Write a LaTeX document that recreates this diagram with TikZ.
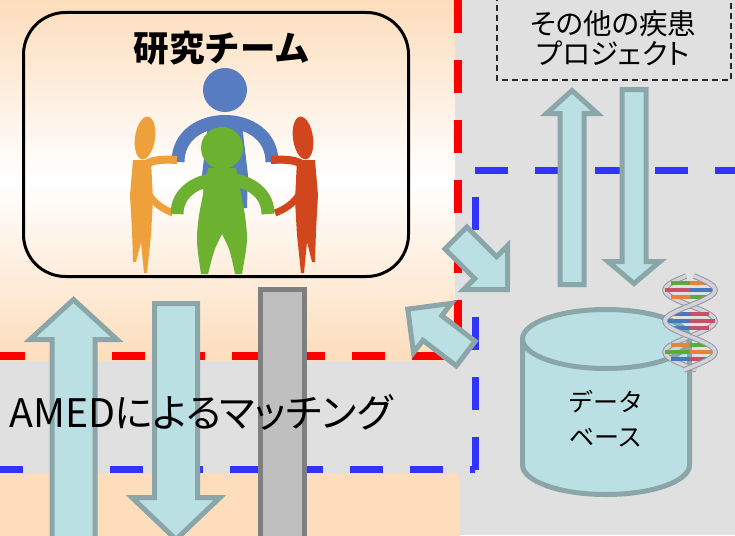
\documentclass[tikz,border=0pt]{standalone}
\usepackage{fontspec}
\newfontfamily\jp{Noto Sans CJK JP}[RawFeature=+palt]
\newfontfamily\jpfull{Noto Sans CJK JP}
\definecolor{peach}{RGB}{253,221,188}
\definecolor{bggray}{RGB}{224,224,224}
\definecolor{dashred}{RGB}{255,0,0}
\definecolor{dashblue}{RGB}{51,51,255}
\definecolor{arrowfill}{RGB}{187,224,227}
\definecolor{arrowline}{RGB}{138,166,168}
\definecolor{barfill}{RGB}{191,191,191}
\definecolor{barline}{RGB}{127,127,127}
\definecolor{pblue}{RGB}{88,124,192}
\definecolor{pgreen}{RGB}{108,178,48}
\definecolor{porange}{RGB}{238,160,58}
\definecolor{pred}{RGB}{210,70,30}
\definecolor{silver}{RGB}{210,210,216}
\definecolor{silveredge}{RGB}{150,150,160}
\definecolor{dnagreen}{RGB}{90,170,60}
\definecolor{dnaorange}{RGB}{230,130,60}
\definecolor{dnared}{RGB}{200,80,100}
\definecolor{dnablue}{RGB}{70,120,190}

% block arrow: tip x, tip y, direction (deg, y downwards), length,
% head length, head half width, shaft half width (outer sizes)
\newcommand{\blockarrow}[7]{%
  \draw[blockarrow, shift={(#1,#2)}, rotate={-(#3)}]
    (-3.5,0) -- ({-#5+2.5},{#6-5}) -- ({-#5+2.5},{#7-2.5})
    -- ({-#4+2.5},{#7-2.5}) -- ({-#4+2.5},{-#7+2.5})
    -- ({-#5+2.5},{-#7+2.5}) -- ({-#5+2.5},{-#6+5}) -- cycle;}

\begin{document}
\begin{tikzpicture}[x=1pt,y=-1pt,
  reddash/.style={draw=dashred, line width=7.5pt, dash pattern=on 33pt off 27pt},
  bluedash/.style={draw=dashblue, line width=7pt, dash pattern=on 33pt off 27pt},
  blockarrow/.style={fill=arrowfill, draw=arrowline, line width=5pt, line join=miter},
  grayblock/.style={fill=barfill, draw=barline, line width=5pt},
  dbshape/.style={fill=arrowfill, draw=arrowline, line width=5pt},
  teambox/.style={draw=black, line width=3pt, rounded corners=42pt},
  projbox/.style={draw=black!85, line width=1.6pt, dash pattern=on 6pt off 4pt},
  label/.style={text=black, inner sep=0pt},
  dnabar/.style={line width=3.8pt}]
\useasboundingbox (0,0) rectangle (735,535);
\clip (0,0) rectangle (735,535);

% backgrounds
\fill[bggray] (0,0) rectangle (735,535);
\shade[top color=peach, bottom color=white] (0,0) rectangle (455,180);
\shade[top color=white, bottom color=peach] (0,180) rectangle (455,360);
\fill[peach, rounded corners=5pt] (-10,473) rectangle (460,560);

% region borders
\draw[reddash] (458,0) -- (458,356);
\draw[reddash, dash phase=8pt] (0,356) -- (458,356);
\draw[bluedash] (475,170) -- (735,170);
\draw[bluedash] (475,197) -- (475,471);
\draw[bluedash, dash phase=10pt] (0,469) -- (475,469);

% research team box
\draw[teambox] (23.5,12.5) rectangle (408.5,276.5);

% team figures: blue one behind
\fill[pblue] (208,125) -- (242,125) -- (248,175) -- (247,208) -- (240,208)
  -- (225,190) -- (212,208) -- (205,208) -- (202,175) -- cycle;
\draw[pblue, line width=13pt] (178,162) .. controls (178,108) and (272,108) .. (272,162);
\fill[pblue] (225,90) circle[radius=22pt];

% orange one on the left, red one mirrored on the right
\foreach \side/\col in {0/porange, 1/pred}{
  \begin{scope}[shift={(448*\side,0)}, xscale={1-2*\side}]
    \fill[\col, rotate around={-8:(145,138)}] (145,138) ellipse[x radius=10pt, y radius=21.5pt];
    \draw[\col, line width=8pt] (142,167) .. controls (150,160) and (160,159) .. (177,160);
    \draw[\col, line width=7pt] (140,172) .. controls (145,195) and (155,206) .. (173,213);
    \fill[\col] (133,160) -- (151,160) -- (153,200) -- (151,235) -- (147,273)
      -- (144,273) -- (141,242) -- (136,262) -- (133,262) -- (132,230) -- (130,195) -- cycle;
  \end{scope}
}

% green one in front
\draw[pgreen, line width=13pt] (177,214) .. controls (177,167) and (268,167) .. (268,214);
\fill[pgreen] (208,168) -- (236,168) -- (245,215) .. controls (248,240) .. (242,274)
  -- (235,274) .. controls (230,250) .. (222,234) .. controls (214,250) .. (208,274)
  -- (201,274) .. controls (196,240) .. (199,215) -- cycle;
\fill[pgreen] (222,148) circle[radius=21pt];

\node[label, font=\jpfull\bfseries\fontsize{35.5}{40}\selectfont] (title) at (222,48) {研究チーム};

% other disease projects
\draw[projbox] (497,-5) rectangle (731,80);
\node[label, align=center, font=\jp\fontsize{28.5}{30}\selectfont] (proj) at (613,38)
  {その他の疾患\\プロジェクト};

% exchange arrows
\blockarrow{572}{87}{-90}{200}{29}{30.5}{14.5}
\blockarrow{634}{287}{90}{200}{28}{31}{14.5}
\blockarrow{73.5}{296}{-90}{250}{46}{48.5}{24}
\blockarrow{176}{543}{90}{242}{48}{49}{24}
\blockarrow{510}{292}{45}{79}{37}{36}{18}
\blockarrow{405}{307}{-142.5}{79}{37}{36}{18}

% blocked path
\draw[grayblock] (260.5,289.5) rectangle (304.5,545);

% database cylinder
\draw[dbshape] (522.5,339) -- (522.5,465)
  arc[start angle=180, end angle=360, x radius=83.5pt, y radius=29.5pt]
  -- (689.5,339)
  arc[start angle=0, end angle=180, x radius=83.5pt, y radius=29.5pt] -- cycle;
\draw[draw=arrowline, line width=5pt] (522.5,339)
  arc[start angle=180, end angle=360, x radius=83.5pt, y radius=29.5pt];
\node[label, align=center, font=\jpfull\fontsize{25}{35}\selectfont] (db) at (606,419)
  {データ\\ベース};

% DNA helix
\begin{scope}[shift={(690,0)}]
  \draw[silveredge, line width=5.5pt, smooth, domain=276:370, samples=60]
    plot ({-25*cos((\x-290)*5.806)}, \x);
  \draw[silver, line width=3.5pt, smooth, domain=276:370, samples=60]
    plot ({-25*cos((\x-290)*5.806)}, \x);
  \foreach \yy/\ca/\cb in {283/dnagreen/dnaorange, 290/dnared/dnablue, 297/dnaorange/dnagreen,
      314/dnablue/dnared, 321/dnablue/dnared, 328/dnablue/dnared,
      345/dnaorange/dnagreen, 352/dnagreen/dnaorange, 359/dnablue/dnared}{
    \pgfmathsetmacro{\hw}{abs(25*cos((\yy-290)*5.806))}
    \draw[dnabar, \ca] (-\hw,\yy) -- (0,\yy);
    \draw[dnabar, \cb] (0,\yy) -- (\hw,\yy);
  }
  \draw[silveredge, line width=5.5pt, smooth, domain=276:370, samples=60]
    plot ({25*cos((\x-290)*5.806)}, \x);
  \draw[silver, line width=3.5pt, smooth, domain=276:370, samples=60]
    plot ({25*cos((\x-290)*5.806)}, \x);
\end{scope}

% matching band label
\node[label, anchor=west, font=\jp\fontsize{39.3}{42}\selectfont] (amed) at (9,412)
  {AMEDによるマッチング};
\end{tikzpicture}
\end{document}
